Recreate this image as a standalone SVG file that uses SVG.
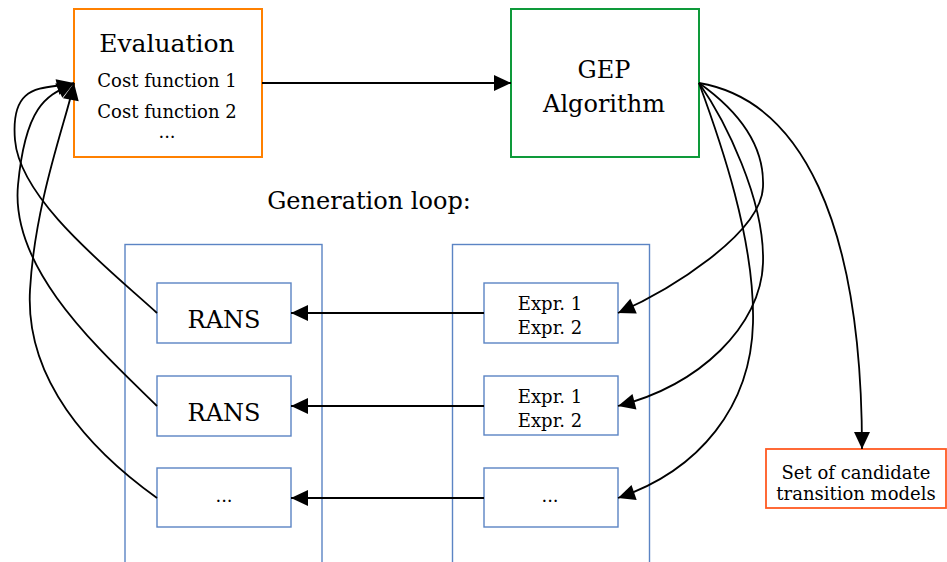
<svg xmlns="http://www.w3.org/2000/svg" width="947" height="562" viewBox="0 0 947 562">
<style>
text { font-family: "DejaVu Serif", "Liberation Serif", serif; fill: #000; text-anchor: middle; }
.big { font-size: 24px; }
.small { font-size: 18px; }
.blue { fill: #fff; stroke: #5b84c4; stroke-width: 1.4; }
.cont { fill: none; stroke: #5b84c4; stroke-width: 1.4; }
.edge { fill: none; stroke: #000; stroke-width: 1.8; marker-end: url(#arr); }
</style>
<defs>
<marker id="arr" markerUnits="userSpaceOnUse" markerWidth="17" markerHeight="16" viewBox="0 0 17 16" refX="17" refY="8" orient="auto" overflow="visible">
<path d="M0,0 L17,8 L0,16 z" fill="#000"/>
</marker>
</defs>
<rect width="947" height="562" fill="#fff"/>

<g id="left-container"><rect class="cont" x="125" y="244.5" width="197" height="330"/></g>
<g id="right-container"><rect class="cont" x="452.5" y="244.5" width="197" height="330"/></g>

<g id="evaluation">
<rect x="74" y="9" width="188" height="148" fill="#fff" stroke="#ff8000" stroke-width="2"/>
<text class="big" x="167" y="52" style="font-size:25px">Evaluation</text>
<text class="small" x="167" y="87">Cost function 1</text>
<text class="small" x="167" y="118">Cost function 2</text>
<text class="small" x="167" y="138">...</text>
</g>

<g id="gep">
<rect x="511" y="9" width="188" height="148" fill="#fff" stroke="#0e9a3a" stroke-width="2"/>
<text class="big" x="604" y="78">GEP</text>
<text class="big" x="604" y="112">Algorithm</text>
</g>

<g id="generation-loop-label">
<text class="big" x="369" y="209">Generation loop:</text>
</g>

<g id="rans1"><rect class="blue" x="157" y="283" width="134" height="60"/><text class="big" x="224" y="328">RANS</text></g>
<g id="rans2"><rect class="blue" x="157" y="376" width="134" height="60"/><text class="big" x="224" y="421">RANS</text></g>
<g id="rans3"><rect class="blue" x="157" y="468" width="134" height="59"/><text class="small" x="224" y="502">...</text></g>

<g id="expr1"><rect class="blue" x="484" y="283" width="134" height="60"/><text class="small" x="550" y="310">Expr. 1</text><text class="small" x="550" y="334">Expr. 2</text></g>
<g id="expr2"><rect class="blue" x="484" y="376" width="134" height="59"/><text class="small" x="550" y="403">Expr. 1</text><text class="small" x="550" y="427">Expr. 2</text></g>
<g id="expr3"><rect class="blue" x="484" y="468" width="134" height="59"/><text class="small" x="550" y="502">...</text></g>

<g id="candidates">
<rect x="766" y="449" width="180" height="59" fill="#fff" stroke="#ff5a22" stroke-width="1.8"/>
<text class="small" x="856" y="479">Set of candidate</text>
<text class="small" x="856" y="500">transition models</text>
</g>

<g id="connectors">
<path class="edge" d="M262,83 L511,83"/>
<path class="edge" d="M484,313 L291,313"/>
<path class="edge" d="M484,406 L291,406"/>
<path class="edge" d="M484,498 L291,498"/>
<path class="edge" d="M699,83 C730,105 765,140 763,187 S670,290 618,313"/>
<path class="edge" d="M699,83 C725,120 765,200 763,263 S700,385 618,406"/>
<path class="edge" d="M699,83 C720,140 755,240 753,323 S700,470 618,498"/>
<path class="edge" d="M699,83 C800,100 862,220 862,449"/>
<path class="edge" d="M157,313 C110,270 20,200 15,140 S45,90 74,83"/>
<path class="edge" d="M157,406 C100,350 10,270 18,185 S50,95 74,83"/>
<path class="edge" d="M157,498 C90,450 25,380 30,290 S68,115 74,83"/>
</g>
</svg>
